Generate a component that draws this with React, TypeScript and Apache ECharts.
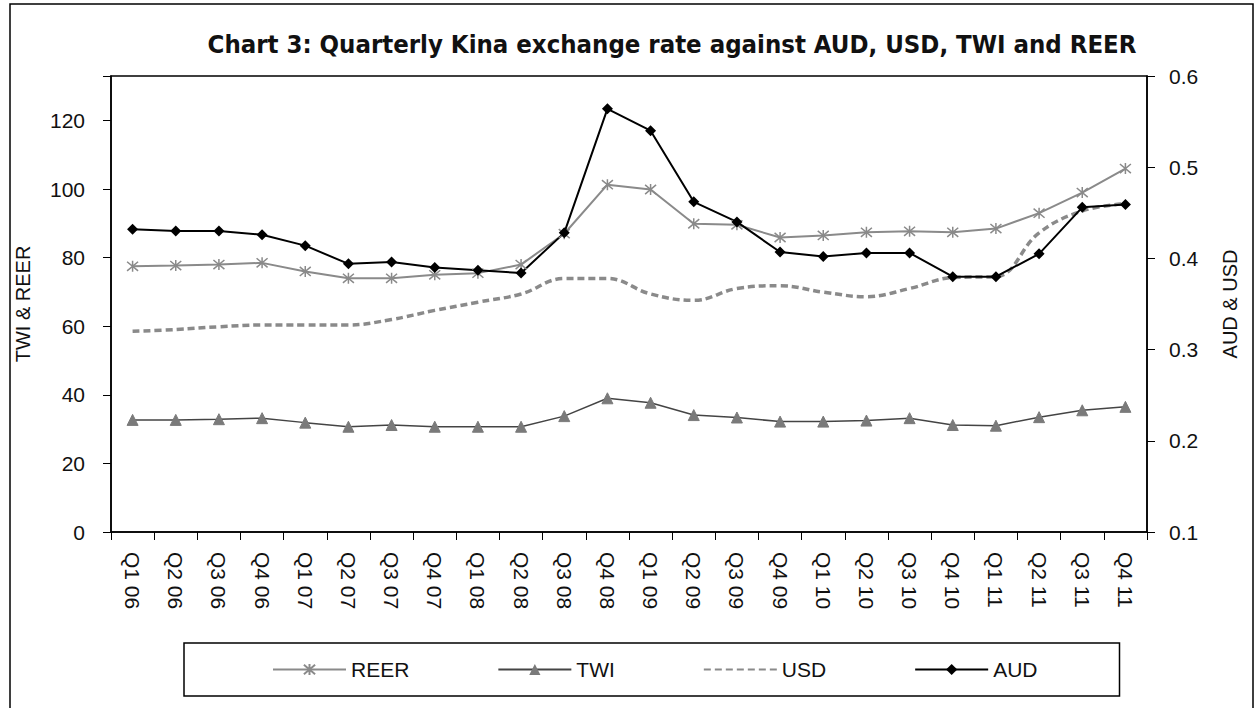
import React, { useEffect, useRef } from "react";
import * as echarts from "echarts";

const categories = [
  "Q1 06", "Q2 06", "Q3 06", "Q4 06",
  "Q1 07", "Q2 07", "Q3 07", "Q4 07",
  "Q1 08", "Q2 08", "Q3 08", "Q4 08",
  "Q1 09", "Q2 09", "Q3 09", "Q4 09",
  "Q1 10", "Q2 10", "Q3 10", "Q4 10",
  "Q1 11", "Q2 11", "Q3 11", "Q4 11",
];

// Left axis (TWI & REER)
const reer = [77.5, 77.7, 78, 78.5, 76, 74, 74, 75, 75.5, 78, 87, 101.3, 99.9, 89.9, 89.6, 85.9, 86.5, 87.4, 87.7, 87.4, 88.5, 93, 99, 106];
const twi = [32.7, 32.7, 32.9, 33.2, 31.9, 30.7, 31.2, 30.7, 30.7, 30.7, 33.8, 39, 37.7, 34.1, 33.4, 32.2, 32.2, 32.5, 33.2, 31.2, 31, 33.5, 35.5, 36.5];

// Right axis (AUD & USD)
const usd = [0.32, 0.322, 0.325, 0.327, 0.327, 0.327, 0.333, 0.343, 0.352, 0.361, 0.378, 0.378, 0.361, 0.354, 0.367, 0.37, 0.363, 0.358, 0.367, 0.379, 0.38, 0.428, 0.452, 0.46];
const aud = [0.432, 0.43, 0.43, 0.426, 0.414, 0.394, 0.396, 0.39, 0.387, 0.384, 0.428, 0.564, 0.54, 0.462, 0.44, 0.407, 0.402, 0.406, 0.406, 0.38, 0.38, 0.405, 0.456, 0.459];

const leftTicks = { min: 0, max: 133, interval: 20 };
const rightTicks = { min: 0.1, max: 0.6, interval: 0.1 };

const FONT = "'Liberation Sans', Arial, sans-serif";
const NARROW = "'Liberation Sans Narrow', 'Arial Narrow', 'DejaVu Sans Condensed', sans-serif";
const STAR = "path://M0,0L10,10M10,0L0,10M5,-1L5,11";

export default function App() {
  const ref = useRef<HTMLDivElement>(null);
  useEffect(() => {
    if (!ref.current) return;
    const chart = echarts.init(ref.current, undefined, { renderer: "svg" });
    const labelStyle = { color: "#111", fontSize: 21, fontFamily: FONT };
    chart.setOption({
      animation: false,
      backgroundColor: "#fff",
      title: {
        text: "Chart 3: Quarterly Kina exchange rate against AUD, USD, TWI and REER",
        left: 667,
        top: 26,
        textAlign: "center",
        textStyle: { fontSize: 25.5, fontWeight: "bold", fontFamily: NARROW, color: "#111" },
      },
      graphic: [
        {
          type: "polyline",
          shape: { points: [[10, 720], [10, 4], [1253, 4], [1253, 720]] },
          style: { stroke: "#000", lineWidth: 1.5, fill: "none" },
          silent: true,
        },
      ],
      grid: {
        left: 111,
        right: 110,
        top: 76,
        bottom: 176,
        show: true,
        borderColor: "#000",
        borderWidth: 1.5,
        backgroundColor: "transparent",
      },
      legend: {
        left: 184,
        top: 643,
        padding: [16, 82, 16, 88],
        itemGap: 88,
        itemWidth: 73,
        itemHeight: 14,
        borderColor: "#000",
        borderWidth: 1.5,
        textStyle: { fontSize: 21, fontFamily: FONT, color: "#111" },
        data: ["REER", "TWI", "USD", "AUD"],
      },
      xAxis: {
        type: "category",
        data: categories,
        boundaryGap: true,
        axisLine: { lineStyle: { color: "#000", width: 1.5 } },
        axisTick: { show: true, interval: 0, length: 8, lineStyle: { color: "#000" } },
        axisLabel: { ...labelStyle, interval: 0, rotate: -90, margin: 20 },
        splitLine: { show: false },
      },
      yAxis: [
        {
          type: "value",
          ...leftTicks,
          position: "left",
          name: "TWI & REER",
          nameLocation: "middle",
          nameGap: 78,
          nameTextStyle: { fontSize: 20, fontFamily: FONT, color: "#111" },
          axisLine: { show: true, lineStyle: { color: "#000", width: 1.5 } },
          axisTick: { show: true, length: 8, lineStyle: { color: "#000" } },
          axisLabel: {
            ...labelStyle,
            margin: 26,
            formatter: (v: number) => (v % 20 === 0 ? String(v) : ""),
          },
          splitLine: { show: false },
        },
        {
          type: "value",
          ...rightTicks,
          position: "right",
          name: "AUD & USD",
          nameLocation: "middle",
          nameGap: 73,
          nameTextStyle: { fontSize: 20, fontFamily: FONT, color: "#111" },
          axisLine: { show: true, lineStyle: { color: "#000", width: 1.5 } },
          axisTick: { show: true, length: 8, lineStyle: { color: "#000" } },
          axisLabel: {
            ...labelStyle,
            margin: 22,
            formatter: (v: number) => v.toFixed(1),
          },
          splitLine: { show: false },
        },
      ],
      series: [
        {
          name: "REER",
          type: "line",
          yAxisIndex: 0,
          data: reer,
          symbol: STAR,
          symbolSize: 11,
          lineStyle: { color: "#8a8a8a", width: 2 },
          itemStyle: { color: "#8a8a8a", borderColor: "#8a8a8a", borderWidth: 1.5 },
        },
        {
          name: "TWI",
          type: "line",
          yAxisIndex: 0,
          data: twi,
          symbol: "triangle",
          symbolSize: 11,
          lineStyle: { color: "#444", width: 1.5 },
          itemStyle: { color: "#7a7a7a", borderColor: "#7a7a7a" },
        },
        {
          name: "USD",
          type: "line",
          yAxisIndex: 1,
          data: usd,
          smooth: 0.4,
          symbol: "circle",
          showSymbol: false,
          lineStyle: { color: "#8a8a8a", width: 3.5, type: [7, 4] },
          itemStyle: { color: "rgba(0,0,0,0)", borderWidth: 0 },
        },
        {
          name: "AUD",
          type: "line",
          yAxisIndex: 1,
          data: aud,
          symbol: "diamond",
          symbolSize: 11,
          lineStyle: { color: "#000", width: 2 },
          itemStyle: { color: "#000" },
        },
      ],
    });
    return () => chart.dispose();
  }, []);
  return (
    <div
      ref={ref}
      style={{ position: "absolute", left: 0, top: 0, width: 1257, height: 708 }}
    />
  );
}
